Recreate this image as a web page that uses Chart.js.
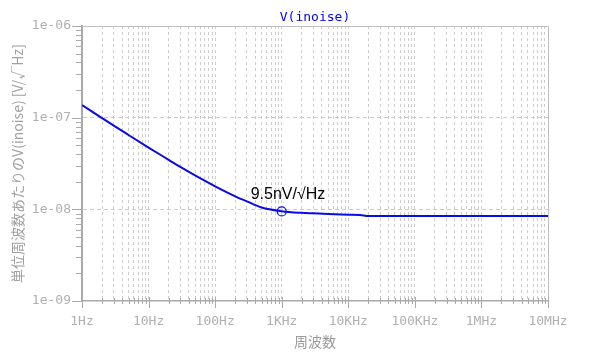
<!DOCTYPE html>
<html>
<head>
<meta charset="utf-8">
<script src="https://cdn.jsdelivr.net/npm/chart.js@4/dist/chart.umd.min.js"></script>
<style>
  html, body { margin: 0; padding: 0; background: #fff; }
  #wrap { width: 600px; height: 360px; position: relative; }
</style>
</head>
<body>
<div id="wrap"><canvas id="noiseChart"></canvas></div>
<script>
// frequency points (Hz) and noise density (V/√Hz)
const freqs = [1, 2, 3, 5, 10, 20, 30, 50, 100, 200, 300, 500, 1000, 2000, 3000, 5000, 10000, 15000, 20000, 100000, 1000000, 10000000];
const noise = [1.37e-7, 9.89e-8, 8.18e-8, 6.47e-8, 4.72e-8, 3.47e-8, 2.90e-8, 2.34e-8, 1.78e-8, 1.387e-8, 1.222e-8, 1.047e-8,
               9.55e-9, 9.16e-9, 9.04e-9, 8.89e-9, 8.75e-9, 8.69e-9, 8.45e-9, 8.45e-9, 8.45e-9, 8.45e-9];

const xDecades = [1, 10, 100, 1000, 10000, 100000, 1000000, 10000000];
const xLabels = ["1Hz", "10Hz", "100Hz", "1KHz", "10KHz", "100KHz", "1MHz", "10MHz"];
const yDecades = [1e-9, 1e-8, 1e-7, 1e-6];
const yLabels = ["1e-09", "1e-08", "1e-07", "1e-06"];

const markerFreq = [1000];
const markerValue = [9.5e-9];
const markerText = "9.5nV/√Hz";

const titleText = "V(inoise)";
const xTitle = "周波数";
const yTitle = "単位周波数あたりのV(inoise) [V/√Hz]";

const blue = "#0a0ae8";
const axisGray = "#aaaaaa";
const gridGray = "#cccccc";
const labelGray = "#b0b0b0";
const mono = "'DejaVu Sans Mono', monospace";

// decade ticks plus the 2..9 minors in between
function logTicks(decades) {
  const out = [];
  decades.forEach((d, i) => {
    if (i === decades.length - 1) { out.push(d); return; }
    for (let m = 1; m < 10; m++) out.push(d * m);
  });
  return out;
}
const xTicks = logTicks(xDecades);
const yTicks = logTicks(yDecades);

function decadeIndex(list, v) {
  return list.findIndex(d => Math.abs(Math.log10(d) - Math.log10(v)) < 1e-6);
}

const framePlugin = {
  id: "frame",
  afterDraw(chart) {
    const { ctx, chartArea: a, scales } = chart;
    ctx.save();
    // top and right border
    ctx.strokeStyle = "#bdbdbd";
    ctx.lineWidth = 1;
    ctx.beginPath();
    ctx.moveTo(a.left, a.top + 0.5);
    ctx.lineTo(a.right + 0.5, a.top + 0.5);
    ctx.lineTo(a.right + 0.5, a.bottom);
    ctx.stroke();

    // tick marks
    ctx.strokeStyle = axisGray;
    ctx.beginPath();
    xTicks.forEach(v => {
      const px = Math.round(scales.x.getPixelForValue(v)) + 0.5;
      const major = decadeIndex(xDecades, v) >= 0;
      ctx.moveTo(px, a.bottom - (major ? 4 : 3));
      ctx.lineTo(px, a.bottom + (major ? 7 : 3));
    });
    yTicks.forEach(v => {
      const py = Math.round(scales.y.getPixelForValue(v)) + 0.5;
      const major = decadeIndex(yDecades, v) >= 0;
      ctx.moveTo(a.left - (major ? 10 : 6), py);
      ctx.lineTo(a.left, py);
    });
    ctx.stroke();

    // chart title
    ctx.fillStyle = "#0000ff";
    ctx.font = "13px " + mono;
    ctx.textAlign = "center";
    ctx.textBaseline = "middle";
    ctx.fillText(titleText, (a.left + a.right) / 2, 18);

    // annotation next to the marker
    const pt = chart.getDatasetMeta(1).data[0];
    ctx.fillStyle = "#000";
    ctx.font = "16px 'Liberation Sans', Arial, sans-serif";
    ctx.textAlign = "left";
    ctx.textBaseline = "alphabetic";
    ctx.fillText(markerText, pt.x - 31, pt.y - 12);
    ctx.restore();
  }
};

new Chart(document.getElementById("noiseChart"), {
  type: "line",
  data: {
    datasets: [
      {
        data: freqs.map((f, i) => ({ x: f, y: noise[i] })),
        borderColor: blue,
        borderWidth: 2,
        pointRadius: 0,
        cubicInterpolationMode: "monotone",
        fill: false,
      },
      {
        data: markerFreq.map((f, i) => ({ x: f, y: markerValue[i] })),
        showLine: false,
        pointRadius: 4.5,
        pointBorderWidth: 1.2,
        pointBorderColor: blue,
        pointBackgroundColor: "rgba(0,0,0,0)",
      },
    ],
  },
  options: {
    responsive: true,
    maintainAspectRatio: false,
    animation: false,
    layout: { padding: { left: 0, right: 52, top: 26, bottom: 0 } },
    plugins: { legend: { display: false }, tooltip: { enabled: false }, title: { display: false } },
    scales: {
      x: {
        type: "logarithmic",
        min: 1,
        max: 1e7,
        afterBuildTicks: s => { s.ticks = xTicks.map(v => ({ value: v })); },
        afterFit: s => { s.height = 59; },
        grid: {
          drawTicks: false,
          lineWidth: 1,
          color: c => (c.tick && (c.tick.value === 1 || c.tick.value === 1e7)) ? "rgba(0,0,0,0)" : gridGray,
        },
        border: { display: true, color: axisGray, width: 1.5, dash: [3, 3] },
        ticks: {
          autoSkip: false,
          maxRotation: 0,
          padding: 13,
          color: labelGray,
          font: { family: mono, size: 13 },
          callback: v => { const i = decadeIndex(xDecades, v); return i >= 0 ? xLabels[i] : ""; },
        },
        title: {
          display: true,
          text: xTitle,
          color: "#9a9a9a",
          font: { family: "'Noto Sans CJK JP', sans-serif", size: 14 },
          padding: { top: 0, bottom: 9.6 },
        },
      },
      y: {
        type: "logarithmic",
        min: 1e-9,
        max: 1e-6,
        afterBuildTicks: s => { s.ticks = yTicks.map(v => ({ value: v })); },
        afterFit: s => { s.width = 82; },
        grid: {
          drawTicks: false,
          lineWidth: 1,
          color: c => {
            if (!c.tick) return "rgba(0,0,0,0)";
            const i = decadeIndex(yDecades, c.tick.value);
            return (i > 0 && i < yDecades.length - 1) ? gridGray : "rgba(0,0,0,0)";
          },
        },
        border: { display: true, color: axisGray, width: 2, dash: [4, 3] },
        ticks: {
          autoSkip: false,
          padding: 11,
          color: labelGray,
          font: { family: mono, size: 13 },
          callback: v => { const i = decadeIndex(yDecades, v); return i >= 0 ? yLabels[i] : ""; },
        },
        title: {
          display: true,
          text: yTitle,
          color: "#a0a0a0",
          font: { family: "'Noto Sans CJK JP', sans-serif", size: 14 },
          padding: { top: 9, bottom: 0 },
        },
      },
    },
  },
  plugins: [framePlugin],
});
</script>
</body>
</html>
